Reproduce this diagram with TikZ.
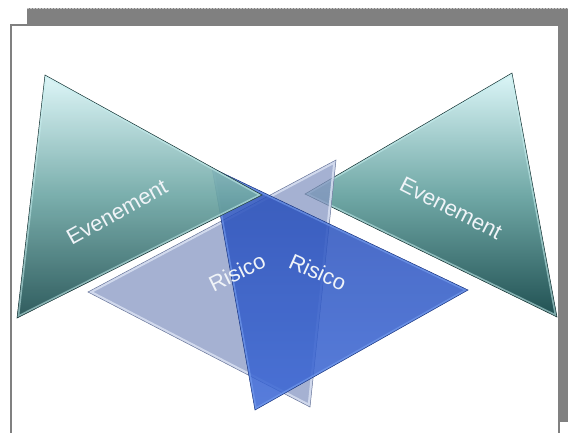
\documentclass[tikz,border=0pt]{standalone}
\usepackage{fontspec}
\setmainfont{Liberation Sans}
\definecolor{shadowgray}{RGB}{128,128,128}
\definecolor{tealtop}{RGB}{220,246,248}
\definecolor{tealmid}{RGB}{112,168,166}
\definecolor{tealbot}{RGB}{32,80,82}
\definecolor{tealedge}{RGB}{200,240,240}
\definecolor{lav}{RGB}{135,151,195}
\definecolor{lavedge}{RGB}{220,228,244}
\definecolor{bluetop}{RGB}{40,78,184}
\definecolor{bluebot}{RGB}{60,104,214}
\definecolor{blueedge}{RGB}{120,160,240}
\definecolor{txt}{RGB}{240,244,248}
\begin{document}
\begin{tikzpicture}[x=1pt,y=-1pt,
  lbl/.style={text=txt, font=\fontsize{22}{26}\selectfont, inner sep=0pt},
  teal/.style={top color=tealtop, bottom color=tealbot, middle color=tealmid},
  rim/.style={line width=0.5pt}]
\useasboundingbox (0,0) rectangle (568,432);
% page and shadow
\begin{scope}
\clip (0,0) rectangle (568,432);
\fill[shadowgray] (27,8) rectangle (590,422);
\draw[gray!45, line width=0.8pt, dash pattern=on 1.5pt off 1.5pt] (27,8.4) -- (568,8.4);
\draw[fill=white, draw=gray, line width=1.2pt] (11,25) rectangle (559,450);
\end{scope}
% vertices
\coordinate (t1a) at (45,75);   \coordinate (t1b) at (17,318);  \coordinate (t1c) at (262,195);
\coordinate (t2a) at (512,73);  \coordinate (t2b) at (557,317); \coordinate (t2c) at (305,194);
\coordinate (aa) at (336,160);  \coordinate (ab) at (88,292);   \coordinate (ac) at (310,407);
\coordinate (ba) at (212,168);  \coordinate (bb) at (468,290);  \coordinate (bc) at (255,410);
% right Evenement triangle
\path[teal] (t2a) -- (t2b) -- (t2c) -- cycle;
\begin{scope}
\clip (t2a) -- (t2b) -- (t2c) -- cycle;
\draw[tealedge, opacity=0.55, line width=4pt] (t2a) -- (t2b) -- (t2c) -- cycle;
\end{scope}
\draw[tealbot!60!black, rim] (t2a) -- (t2b) -- (t2c) -- cycle;
% lavender Risico triangle
\fill[lav, opacity=0.75] (aa) -- (ab) -- (ac) -- cycle;
\begin{scope}
\clip (aa) -- (ab) -- (ac) -- cycle;
\draw[lavedge, opacity=0.8, line width=5pt] (aa) -- (ab) -- (ac) -- cycle;
\end{scope}
\draw[lav!80!black, rim] (aa) -- (ab) -- (ac) -- cycle;
% blue Risico triangle
\path[top color=bluetop, bottom color=bluebot, fill opacity=0.86] (ba) -- (bb) -- (bc) -- cycle;
\begin{scope}
\clip (ba) -- (bb) -- (bc) -- cycle;
\draw[blueedge, opacity=0.6, line width=4pt] (ba) -- (bb) -- (bc) -- cycle;
\end{scope}
\draw[bluetop!70!black, rim] (ba) -- (bb) -- (bc) -- cycle;
% left Evenement triangle
\path[teal, fill opacity=0.93] (t1a) -- (t1b) -- (t1c) -- cycle;
\begin{scope}
\clip (t1a) -- (t1b) -- (t1c) -- cycle;
\draw[tealedge, opacity=0.55, line width=4pt] (t1a) -- (t1b) -- (t1c) -- cycle;
\end{scope}
\draw[tealbot!60!black, rim] (t1a) -- (t1b) -- (t1c) -- cycle;
% labels
\node[lbl, rotate=29]  (ev1) at (117,212) {Evenement};
\node[lbl, rotate=-27] (ev2) at (451,208) {Evenement};
\node[lbl, rotate=26]  (ri1) at (237,272) {Risico};
\node[lbl, rotate=-24] (ri2) at (318,272) {Risico};
\end{tikzpicture}
\end{document}
